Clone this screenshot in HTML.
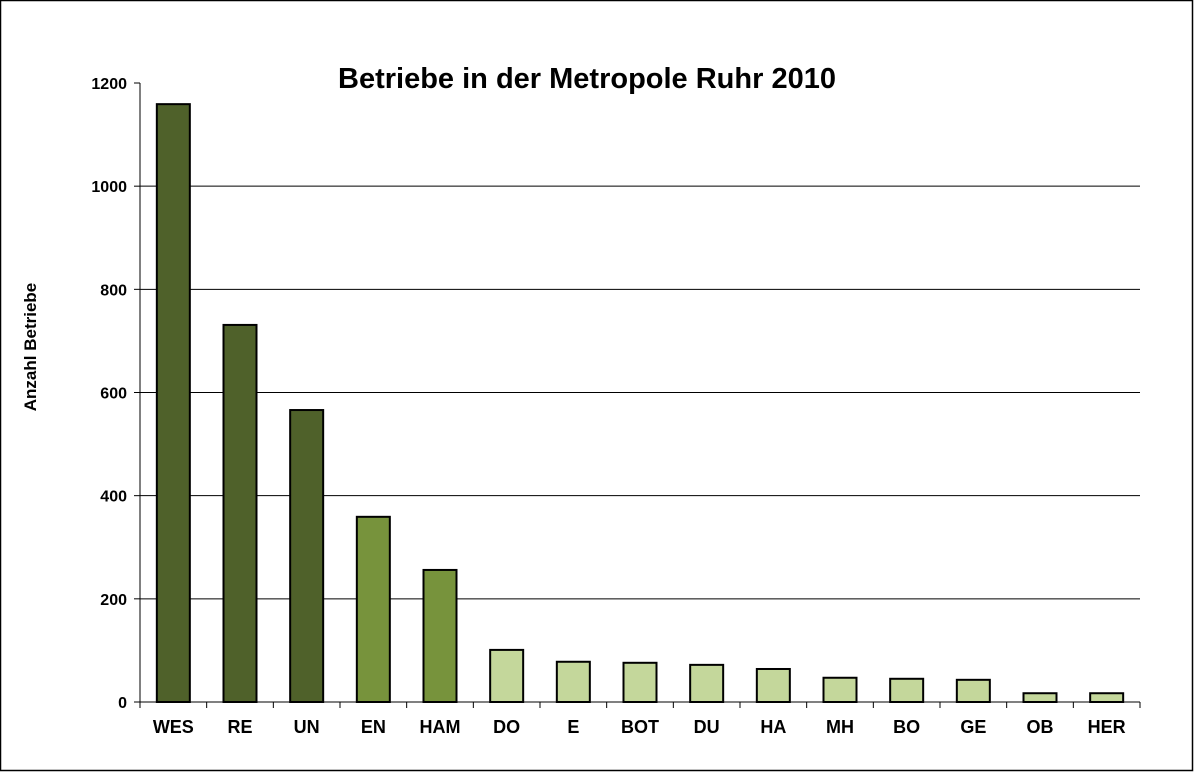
<!DOCTYPE html>
<html><head><meta charset="utf-8"><style>
html,body{margin:0;padding:0;background:#fff}
svg{display:block;font-family:"Liberation Sans",Arial,sans-serif}
</style></head><body>
<svg id="chart" width="1194" height="772" viewBox="0 0 1194 772" xmlns="http://www.w3.org/2000/svg">
<rect x="0.5" y="0.5" width="1192" height="770" fill="#fff" stroke="#000" stroke-width="1.5"/>
<text x="587" y="88" text-anchor="middle" font-size="29" font-weight="bold">Betriebe in der Metropole Ruhr 2010</text>
<text transform="translate(36,347) rotate(-90)" text-anchor="middle" font-size="17" font-weight="bold">Anzahl Betriebe</text>
<g id="grid"></g><g id="bars"></g><g id="axes"></g>
</svg>
<script>
const categories = ["WES","RE","UN","EN","HAM","DO","E","BOT","DU","HA","MH","BO","GE","OB","HER"];
const values = [1159,731,566,359,256,101,78,76,72,64,47,45,43,17,17];
const groups = [0,0,0,1,1,2,2,2,2,2,2,2,2,2,2];
const yTicks = [0,200,400,600,800,1000,1200];
const colors = ["#4F612A","#77933C","#C4D79B"];
const NS="http://www.w3.org/2000/svg";
const x0=140,x1=1140,y0=702,y1=83,yMax=1200;
const y=v=>y0-(v/yMax)*(y0-y1);
const band=(x1-x0)/categories.length;
const xc=i=>x0+band*(i+0.5);
function mk(tag,attrs,parent){const e=document.createElementNS(NS,tag);for(const k in attrs)e.setAttribute(k,attrs[k]);parent.appendChild(e);return e;}
const grid=document.getElementById('grid'),bars=document.getElementById('bars'),axes=document.getElementById('axes');
yTicks.forEach(t=>{
  if(t>0&&t<yMax){const g=mk('line',{x1:x0,x2:x1,y1:y(t),y2:y(t),stroke:'#000','stroke-width':1},grid);
  
  }
  const tk=mk('line',{x1:x0-6,x2:x0,y1:y(t),y2:y(t),stroke:'#000','stroke-width':1},axes);
  
  
  const lb=mk('text',{x:x0-13,y:y(t)+6,'text-anchor':'end','font-size':16,'font-weight':'bold'},axes);
  lb.textContent=t;
  
  
});
const bw=33;
categories.forEach((c,i)=>{
  const r=mk('rect',{x:xc(i)-bw/2,y:y(values[i]),width:bw,height:y0-y(values[i]),fill:colors[groups[i]],stroke:'#000','stroke-width':2},bars);
  
  
  const lb=mk('text',{x:xc(i),y:733,'text-anchor':'middle','font-size':18,'font-weight':'bold'},axes);
  lb.textContent=c;
  
  
});
for(let i=0;i<=categories.length;i++){
  const t=mk('line',{x1:x0+band*i,x2:x0+band*i,y1:y0,y2:y0+6,stroke:'#000','stroke-width':1},axes);
  
  
}
const ya=mk('line',{x1:x0,x2:x0,y1:y1,y2:y0,stroke:'#000','stroke-width':1},axes);


const xa=mk('line',{x1:x0,x2:x1,y1:y0,y2:y0,stroke:'#000','stroke-width':1},axes);


</script>
</body></html>
